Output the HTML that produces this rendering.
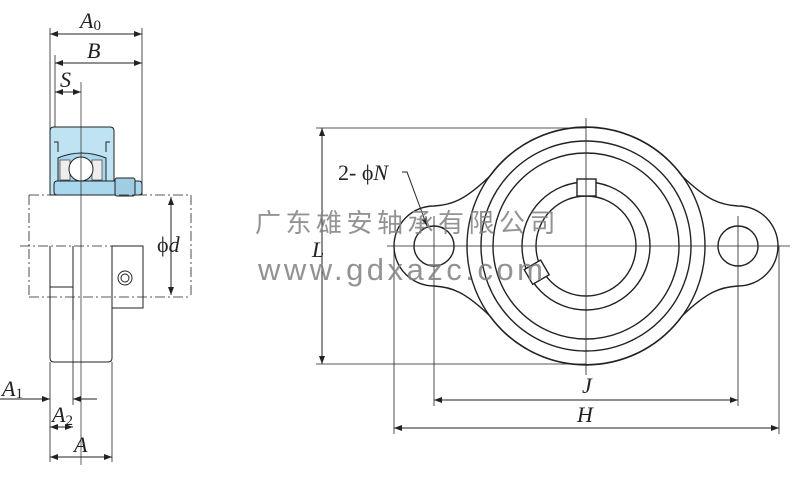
<!DOCTYPE html>
<html><head><meta charset="utf-8"><style>
html,body{margin:0;padding:0;background:#fff;width:800px;height:489px;overflow:hidden}
svg{display:block}
.t{font-family:"Liberation Serif",serif;font-style:italic;fill:#222}
</style></head><body>
<svg width="800" height="489" viewBox="0 0 800 489" xmlns="http://www.w3.org/2000/svg">
<defs>
<marker id="ar" markerWidth="8" markerHeight="6" refX="8" refY="3" orient="auto-start-reverse" markerUnits="userSpaceOnUse"><path d="M0,0 L8,3 L0,6 Z" fill="#222"/></marker>
</defs>
<g stroke="#222" fill="none" stroke-width="1">
<!-- LEFT VIEW -->
<line x1="50" y1="28" x2="50" y2="195" stroke-width="0.8"/>
<line x1="142" y1="28" x2="142" y2="195" stroke-width="0.8"/>
<line x1="55" y1="55" x2="55" y2="185" stroke-width="0.8"/>
<line x1="50" y1="34" x2="142" y2="34" marker-start="url(#ar)" marker-end="url(#ar)"/>
<line x1="55" y1="63" x2="142" y2="63" marker-start="url(#ar)" marker-end="url(#ar)"/>
<line x1="55" y1="92" x2="81" y2="92" marker-start="url(#ar)" marker-end="url(#ar)"/>
<line x1="81" y1="82" x2="81" y2="465" stroke-width="0.7"/>
<path d="M50,195 L50,131 Q50,127 54,127 L110,127 Q114,127 114,131 L114,195 Z" fill="#bfe3f2"/>
<path d="M54,142 L58,142 L58,152 M110,142 L106,142 L106,152" />
<path d="M58,158 Q81,148 106,158 L106,181 L58,181 Z" fill="#a9d8ee"/>
<rect x="54" y="181" width="88" height="14" rx="3" fill="#a9d8ee"/>
<rect x="60" y="160" width="10" height="20" fill="#eee" stroke-width="0.6"/>
<rect x="92" y="160" width="10" height="20" fill="#eee" stroke-width="0.6"/>
<circle cx="81" cy="169" r="12" fill="#fff"/>
<rect x="115" y="178" width="20" height="18" rx="2" fill="#9fcde3"/>
<line x1="81" y1="127" x2="81" y2="195" stroke-width="0.7"/>
<g stroke-dasharray="10,3,2,3" stroke-width="0.8">
<line x1="29" y1="195" x2="191" y2="195"/>
<line x1="29" y1="297" x2="191" y2="297"/>
<line x1="29" y1="195" x2="29" y2="297"/>
<line x1="191" y1="195" x2="191" y2="297"/>
<line x1="20" y1="246" x2="145" y2="246"/>
</g>
<line x1="171" y1="197" x2="171" y2="295" marker-start="url(#ar)" marker-end="url(#ar)"/>
<path d="M50,246 L50,358 Q50,362 54,362 L108,362 Q112,362 112,358 L112,246"/>
<path d="M112,246 L143,246 L143,308 L112,308"/>
<line x1="50" y1="287" x2="73" y2="287"/>
<line x1="73" y1="246" x2="73" y2="320"/>
<circle cx="125" cy="278" r="7"/><circle cx="125" cy="278" r="4"/>
<line x1="50" y1="362" x2="50" y2="462" stroke-width="0.8"/>
<line x1="112" y1="362" x2="112" y2="462" stroke-width="0.8"/>
<line x1="73" y1="320" x2="73" y2="405" stroke-width="0.8"/>
<line x1="0" y1="399" x2="50" y2="399" marker-end="url(#ar)"/>
<line x1="73" y1="399" x2="97" y2="399"/>
<line x1="81" y1="399" x2="73" y2="399" marker-end="url(#ar)"/>
<line x1="50" y1="427" x2="73" y2="427" marker-start="url(#ar)" marker-end="url(#ar)"/>
<line x1="50" y1="457" x2="112" y2="457" marker-start="url(#ar)" marker-end="url(#ar)"/>

<!-- RIGHT VIEW -->
<g stroke-width="1.4">
<path d="M490,176 C465,200 452,205 434,206 A40,40 0 0 0 434,286 C452,287 465,292 490,316 A119,119 0 0 0 682,316 C707,292 720,287 738,286 A40,40 0 0 0 738,206 C720,205 707,200 682,176 A119,119 0 0 0 490,176 Z"/>
<circle cx="586" cy="246" r="119"/>
<circle cx="586" cy="246" r="105"/>
<circle cx="586" cy="246" r="93"/>
<circle cx="586" cy="246" r="64"/>
<circle cx="586" cy="246" r="50"/>
<circle cx="434" cy="246" r="20"/>
<circle cx="738" cy="246" r="20"/>
<rect x="577" y="179" width="19" height="17" fill="#fff"/>
<rect x="527" y="264" width="19" height="17" fill="#fff" transform="rotate(-30 536 272)"/>
</g>
<line x1="387" y1="246" x2="790" y2="246" stroke-width="0.8"/>
<line x1="586" y1="118" x2="586" y2="375" stroke-width="0.8"/>
<line x1="434" y1="216" x2="434" y2="406" stroke-width="0.8"/>
<line x1="738" y1="216" x2="738" y2="406" stroke-width="0.8"/>
<line x1="394" y1="246" x2="394" y2="434" stroke-width="0.8"/>
<line x1="779" y1="246" x2="779" y2="434" stroke-width="0.8"/>
<line x1="316" y1="128" x2="586" y2="128" stroke-width="0.8"/>
<line x1="316" y1="364" x2="586" y2="364" stroke-width="0.8"/>
<line x1="322" y1="128" x2="322" y2="364" marker-start="url(#ar)" marker-end="url(#ar)"/>
<line x1="434" y1="400" x2="738" y2="400" marker-start="url(#ar)" marker-end="url(#ar)"/>
<line x1="394" y1="428" x2="779" y2="428" marker-start="url(#ar)" marker-end="url(#ar)"/>
<path d="M402,172 L407,172 L427,226" marker-end="url(#ar)"/>
</g>
<g class="t" font-size="22">
<text x="80" y="28">A<tspan font-size="15" font-style="normal" dy="2">0</tspan></text>
<text x="87" y="58">B</text>
<text x="60" y="87">S</text>
<text x="157" y="252"><tspan font-style="normal">ϕ</tspan>d</text>
<text x="2" y="396">A<tspan font-size="15" font-style="normal" dy="2">1</tspan></text>
<text x="52" y="422">A<tspan font-size="15" font-style="normal" dy="3">2</tspan></text>
<text x="74" y="452">A</text>
<text x="338" y="180"><tspan font-style="normal">2- ϕ</tspan>N</text>
<text x="312" y="257">L</text>
<text x="582" y="393">J</text>
<text x="577" y="422">H</text>
</g>
<text x="255" y="232" font-family="'Noto Sans CJK SC',sans-serif" font-size="26" fill="#808080" fill-opacity="0.85" letter-spacing="4.5">广东雄安轴承有限公司</text>
<text x="258" y="280" font-family="'Liberation Sans',sans-serif" font-size="31" fill="#808080" fill-opacity="0.85" letter-spacing="3.5">www.gdxazc.com</text>
</svg>
</body></html>
